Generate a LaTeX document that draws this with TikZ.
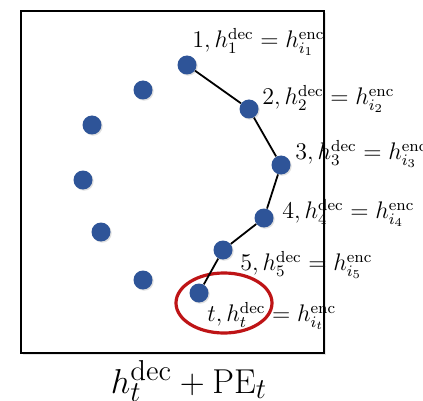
\documentclass[tikz,border=0pt]{standalone}
\usetikzlibrary{shadows}
\definecolor{dotblue}{RGB}{46,84,152}
\definecolor{ringred}{RGB}{190,20,22}
\tikzset{
    pt/.style={circle, fill=dotblue, inner sep=0pt, minimum size=9.5pt,
        drop shadow={shadow xshift=0.6pt, shadow yshift=-0.6pt, opacity=0.25}},
    lbl/.style={anchor=west, inner sep=0pt, font=\large},
    link/.style={line width=0.9pt, black}
}
\begin{document}
\begin{tikzpicture}[x=0.5pt, y=-0.5pt]
    \useasboundingbox (0,0) rectangle (423,401);

    % 外框
    \draw[line width=1.4pt, drop shadow={shadow xshift=0.8pt, shadow yshift=-0.8pt, opacity=0.2}, fill=white]
        (21,11) rectangle (324,353);

    % 红色椭圆
    \draw[ringred, line width=1.6pt] (224,303) ellipse (24pt and 15pt);

    % 其余的点
    \node[pt] (q1) at (143,90) {};
    \node[pt] (q2) at (92,125) {};
    \node[pt] (q3) at (83,180) {};
    \node[pt] (q4) at (101,232) {};
    \node[pt] (q5) at (143,280) {};

    % 解码序列的点
    \node[pt] (p1) at (187,65) {};
    \node[pt] (p2) at (249,109) {};
    \node[pt] (p3) at (281,165) {};
    \node[pt] (p4) at (264,218) {};
    \node[pt] (p5) at (223,250) {};
    \node[pt] (pt) at (199,293) {};

    % 连线
    \draw[link] (p1) -- (p2) -- (p3) -- (p4) -- (p5) -- (pt);

    % 标注
    \node[lbl] (l1) at (192,42) {$1, h_1^{\mathrm{dec}} = h_{i_1}^{\mathrm{enc}}$};
    \node[lbl] (l2) at (262,99) {$2, h_2^{\mathrm{dec}} = h_{i_2}^{\mathrm{enc}}$};
    \node[lbl] (l3) at (295,154) {$3, h_3^{\mathrm{dec}} = h_{i_3}^{\mathrm{enc}}$};
    \node[lbl] (l4) at (282,213) {$4, h_4^{\mathrm{dec}} = h_{i_4}^{\mathrm{enc}}$};
    \node[lbl] (l5) at (240,265) {$5, h_5^{\mathrm{dec}} = h_{i_5}^{\mathrm{enc}}$};
    \node[lbl] (lt) at (207,316) {$t, h_t^{\mathrm{dec}} = h_{i_t}^{\mathrm{enc}}$};

    % 底部公式
    \node[font=\fontsize{19}{22}\selectfont] (sum) at (189,381) {$h_t^{\mathrm{dec}} + \mathrm{PE}_t$};
\end{tikzpicture}
\end{document}
